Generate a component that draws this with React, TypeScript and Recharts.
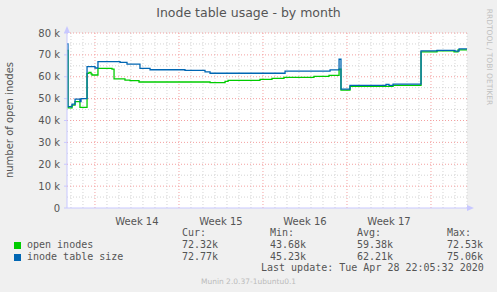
import React from "react";
import {
  LineChart,
  Line,
  XAxis,
  YAxis,
  CartesianGrid,
  ReferenceLine,
} from "recharts";

// time is in days since the left edge of the graph
const openTimes = [
  0, 0.08, 0.42, 0.67, 1.08, 1.67, 1.83, 2.0, 2.08, 2.58, 3.75, 3.92, 4.83, 5.25, 6.0,
  11.92, 13.17, 13.42, 16.08, 17.08, 18.08, 20.58, 21.83, 22.67, 22.83, 23.58, 27.17,
  29.5, 30.83, 32.25, 32.58, 33.33,
];
const openValues = [
  72000, 45800, 47000, 48600, 46000, 61500, 62000, 61300, 60800, 63800, 63500, 59000,
  58500, 58200, 57600, 57300, 57900, 58300, 58800, 59300, 59700, 60200, 60600, 63500,
  53900, 55600, 56100, 71400, 71800, 71400, 72320, 72320,
];

const sizeTimes = [
  0, 0.08, 0.42, 0.67, 1.08, 1.17, 1.67, 2.33, 2.58, 4.42, 5.0, 6.08, 6.92, 9.83, 11.5,
  11.92, 18.17, 21.92, 22.67, 22.83, 23.58, 26.58, 26.83, 27.17, 29.5, 30.83, 32.33,
  32.67, 33.33,
];
const sizeValues = [
  75060, 46300, 47500, 49800, 48600, 50000, 64600, 64000, 66900, 66600, 65800, 63800,
  63200, 62900, 62200, 61600, 62600, 63100, 68000, 54300, 56100, 56500, 56100, 56600,
  71800, 72100, 71700, 72770, 72770,
];

const weekTicks = [5.83, 12.83, 19.83, 26.83];
const weekLabels = ["Week 14", "Week 15", "Week 16", "Week 17"];
const weekStarts = [2.33, 9.33, 16.33, 23.33, 30.33];
const dayLines = Array.from({ length: 34 }, (_, i) => 0.33 + i).filter(
  (d) => !weekStarts.some((w) => Math.abs(w - d) < 0.01)
);
const yTicks = [0, 10000, 20000, 30000, 40000, 50000, 60000, 70000, 80000];
const yMinor = [5000, 15000, 25000, 35000, 45000, 55000, 65000, 75000];

const legendRows = [
  { name: "open inodes", color: "#00cc00", cur: "72.32k", min: "43.68k", avg: "59.38k", max: "72.53k" },
  { name: "inode table size", color: "#0066b3", cur: "72.77k", min: "45.23k", avg: "62.21k", max: "75.06k" },
];

const openData = openTimes.map((t, i) => ({ t, v: openValues[i] }));
const sizeData = sizeTimes.map((t, i) => ({ t, v: sizeValues[i] }));

const txt = "#555555";
const axisColor = "#c8c8ff";
const mono = "'DejaVu Sans Mono', monospace";

const fmtY = (v: number) => (v === 0 ? "0" : `${v / 1000} k`);
const fmtX = (v: number) => weekLabels[weekTicks.indexOf(v)] ?? "";

function Abs({ x, y, children, style }: { x: number; y: number; children: React.ReactNode; style?: React.CSSProperties }) {
  return (
    <div style={{ position: "absolute", left: x, top: y, whiteSpace: "pre", lineHeight: 1, ...style }}>
      {children}
    </div>
  );
}

export default function App() {
  return (
    <div
      style={{
        position: "absolute",
        left: 0,
        top: 0,
        width: 497,
        height: 292,
        background: "#f0f0f0",
        fontFamily: "'DejaVu Sans', sans-serif",
        overflow: "hidden",
      }}
    >
      <LineChart width={497} height={292} margin={{ top: 33, right: 30, bottom: 64, left: 22 }}>
        <CartesianGrid fill="#ffffff" stroke="none" horizontal={false} vertical={false} />
        <XAxis
          dataKey="t"
          type="number"
          domain={[0, 33.33]}
          ticks={weekTicks}
          tickFormatter={fmtX}
          tickLine={false}
          tickMargin={4}
          height={20}
          axisLine={{ stroke: axisColor }}
          tick={{ fill: txt, fontSize: 10 }}
          allowDataOverflow
        />
        <YAxis
          type="number"
          domain={[0, 80000]}
          ticks={yTicks}
          tickFormatter={fmtY}
          width={45}
          tickSize={3}
          tickMargin={4}
          axisLine={{ stroke: axisColor }}
          tickLine={{ stroke: axisColor }}
          tick={{ fill: txt, fontSize: 10 }}
          allowDataOverflow
        />
        {dayLines.map((d) => (
          <ReferenceLine key={`d${d}`} x={d} stroke="#d4d4d4" strokeDasharray="1 2" />
        ))}
        {yMinor.map((v) => (
          <ReferenceLine key={`m${v}`} y={v} stroke="#d4d4d4" strokeDasharray="1 2" />
        ))}
        {weekStarts.map((d) => (
          <ReferenceLine key={`w${d}`} x={d} stroke="#f4a0a0" strokeDasharray="1 2" />
        ))}
        {yTicks.slice(1).map((v) => (
          <ReferenceLine key={`y${v}`} y={v} stroke="#f4a0a0" strokeDasharray="1 2" />
        ))}
        <Line
          data={openData}
          dataKey="v"
          type="stepAfter"
          stroke="#00cc00"
          strokeWidth={1.3}
          dot={false}
          isAnimationActive={false}
        />
        <Line
          data={sizeData}
          dataKey="v"
          type="stepAfter"
          stroke="#0066b3"
          strokeWidth={1.3}
          dot={false}
          isAnimationActive={false}
        />
      </LineChart>

      {/* axis arrows */}
      <svg width={497} height={292} style={{ position: "absolute", left: 0, top: 0, pointerEvents: "none" }}>
        <polygon points="64,33 70,33 67,26" fill={axisColor} />
        <polygon points="467,205 467,211 474,208" fill={axisColor} />
      </svg>

      <Abs x={0} y={7} style={{ width: 497, textAlign: "center", fontSize: 12.5, color: txt }}>
        Inode table usage - by month
      </Abs>
      <Abs
        x={10}
        y={120}
        style={{ fontSize: 10, color: txt, transform: "translate(-50%, -50%) rotate(-90deg)" }}
      >
        number of open inodes
      </Abs>
      <Abs
        x={489}
        y={57}
        style={{ fontSize: 7.5, color: "#c0c0c0", transform: "translate(-50%, -50%) rotate(90deg)" }}
      >
        RRDTOOL / TOBI OETIKER
      </Abs>

      <div style={{ fontFamily: mono, fontSize: 10, color: txt }}>
        <Abs x={182} y={228}>Cur:</Abs>
        <Abs x={270} y={228}>Min:</Abs>
        <Abs x={357} y={228}>Avg:</Abs>
        <Abs x={447} y={228}>Max:</Abs>
        {legendRows.map((r, i) => (
          <React.Fragment key={r.name}>
            <div
              style={{
                position: "absolute",
                left: 14,
                top: 242 + i * 12,
                width: 5,
                height: 5,
                background: r.color,
                border: `0.5px solid ${r.color}`,
              }}
            />
            <Abs x={27} y={240 + i * 12}>{r.name}</Abs>
            <Abs x={182} y={240 + i * 12}>{r.cur}</Abs>
            <Abs x={270} y={240 + i * 12}>{r.min}</Abs>
            <Abs x={357} y={240 + i * 12}>{r.avg}</Abs>
            <Abs x={447} y={240 + i * 12}>{r.max}</Abs>
          </React.Fragment>
        ))}
        <Abs x={261} y={263}>Last update: Tue Apr 28 22:05:32 2020</Abs>
      </div>
      <Abs x={0} y={278} style={{ width: 497, textAlign: "center", fontSize: 7.5, color: "#bbbbbb" }}>
        Munin 2.0.37-1ubuntu0.1
      </Abs>
    </div>
  );
}
